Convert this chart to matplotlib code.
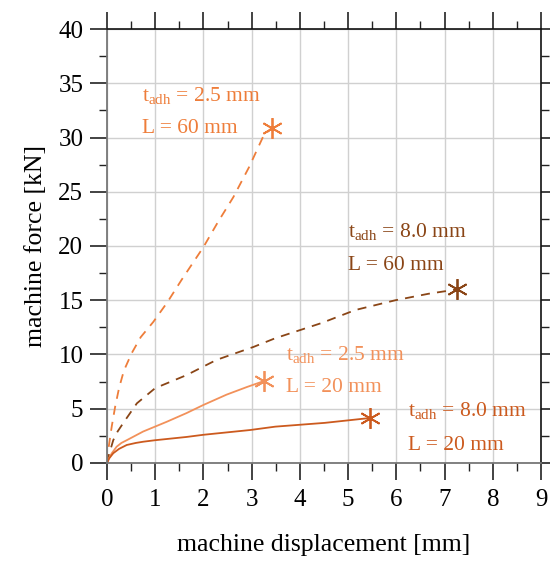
import matplotlib
matplotlib.use("Agg")
import matplotlib.pyplot as plt
from matplotlib.ticker import MultipleLocator

plt.rcParams['font.family'] = ['Liberation Serif', 'DejaVu Serif']
plt.rcParams['mathtext.fontset'] = 'custom'
plt.rcParams['mathtext.rm'] = 'Liberation Serif'
plt.rcParams['mathtext.it'] = 'Liberation Serif:italic'

# t_adh = 2.5 mm, L = 60 mm
disp_25_60 = [0, 0.04, 0.1, 0.17, 0.25, 0.35, 0.51, 0.7, 0.96, 1.25, 1.55, 2.0, 2.3, 2.62, 2.95, 3.24, 3.42]
force_25_60 = [0, 1.6, 3.4, 5.2, 6.9, 8.5, 10.1, 11.6, 13.0, 14.8, 16.9, 19.9, 22.2, 24.5, 27.3, 30.1, 30.9]

# t_adh = 8.0 mm, L = 60 mm
disp_80_60 = [0, 0.05, 0.13, 0.22, 0.34, 0.62, 1.0, 1.65, 2.27, 3.04, 3.49, 4.45, 5.15, 5.98, 6.67, 7.26]
force_80_60 = [0, 0.9, 2.1, 2.9, 3.7, 5.5, 6.9, 8.1, 9.5, 10.7, 11.5, 12.9, 14.1, 15.0, 15.6, 16.0]

# t_adh = 2.5 mm, L = 20 mm
disp_25_20 = [0, 0.03, 0.1, 0.2, 0.3, 0.41, 0.75, 1.24, 1.65, 2.0, 2.48, 2.9, 3.26]
force_25_20 = [0, 0.35, 0.9, 1.5, 1.85, 2.1, 2.9, 3.8, 4.6, 5.35, 6.3, 7.0, 7.56]

# t_adh = 8.0 mm, L = 20 mm
disp_80_20 = [0, 0.05, 0.13, 0.25, 0.41, 0.6, 0.75, 1.0, 1.65, 2.0, 2.97, 3.49, 4.52, 5.46]
force_80_20 = [0, 0.45, 0.9, 1.3, 1.66, 1.85, 1.96, 2.1, 2.4, 2.6, 3.04, 3.35, 3.7, 4.15]

labels_t = ["2.5", "8.0", "2.5", "8.0"]
labels_L = ["60", "60", "20", "20"]

col_25_60 = '#EE7D3A'
col_80_60 = '#8A4516'
col_25_20 = '#F2915A'
col_80_20 = '#CC5A1E'

fig = plt.figure(figsize=(5.5, 5.61), dpi=100)
ax = fig.add_axes([0.1945, 0.1747, 0.9836 - 0.1945, 0.9483 - 0.1747])

star = (6, 2, 0)
ax.plot(disp_25_60, force_25_60, color=col_25_60, lw=1.3, dashes=(5, 4))
ax.plot(disp_25_60[-1], force_25_60[-1], marker=star, ms=15, mew=1.3, color=col_25_60)
ax.plot(disp_80_60, force_80_60, color=col_80_60, lw=1.3, dashes=(5, 4))
ax.plot(disp_80_60[-1], force_80_60[-1], marker=star, ms=15, mew=1.3, color=col_80_60)
ax.plot(disp_25_20, force_25_20, color=col_25_20, lw=1.3)
ax.plot(disp_25_20[-1], force_25_20[-1], marker=star, ms=15, mew=1.3, color=col_25_20)
ax.plot(disp_80_20, force_80_20, color=col_80_20, lw=1.3)
ax.plot(disp_80_20[-1], force_80_20[-1], marker=star, ms=15, mew=1.3, color=col_80_20)

# annotation anchors (x, y of first line, y of second line)
anchors = [(0.73, 33.9, 30.8), (5.0, 21.3, 18.2), (3.71, 10.0, 7.0), (6.25, 4.8, 1.6)]
cols = [col_25_60, col_80_60, col_25_20, col_80_20]
for (ax_x, y1, y2), t, L, c in zip(anchors, labels_t, labels_L, cols):
    ax.text(ax_x, y1, r"t$_{\mathrm{adh}}$ = " + t + " mm", color=c, fontsize=15.5, va='center')
    ax.text(ax_x, y2, "L = " + L + " mm", color=c, fontsize=15.5, va='center')

ax.set_xlim(0, 9)
ax.set_ylim(0, 40)
ax.xaxis.set_major_locator(MultipleLocator(1))
ax.xaxis.set_minor_locator(MultipleLocator(0.5))
ax.yaxis.set_major_locator(MultipleLocator(5))
ax.yaxis.set_minor_locator(MultipleLocator(2.5))
ax.grid(True, which='major', color='#d0d0d0', lw=1.0)
ax.set_axisbelow(True)

ax.tick_params(which='major', direction='out', length=12, width=1.2, color='#222222',
               top=True, right=True, labelsize=18, pad=7)
ax.tick_params(which='minor', direction='out', length=6, width=1.0, color='#222222',
               top=True, right=True)
ax.tick_params(axis='y', which='major', right=True, labelright=False, pad=5)

for side in ['left', 'bottom']:
    ax.spines[side].set_color('#777777')
    ax.spines[side].set_linewidth(1.3)
for side in ['top', 'right']:
    ax.spines[side].set_color('#111111')
    ax.spines[side].set_linewidth(1.2)

ax.set_xlabel("machine displacement [mm]", fontsize=18.5, labelpad=16)
ax.set_ylabel("machine force [kN]", fontsize=18.5, labelpad=8)

fig.savefig("out.png", dpi=100)
